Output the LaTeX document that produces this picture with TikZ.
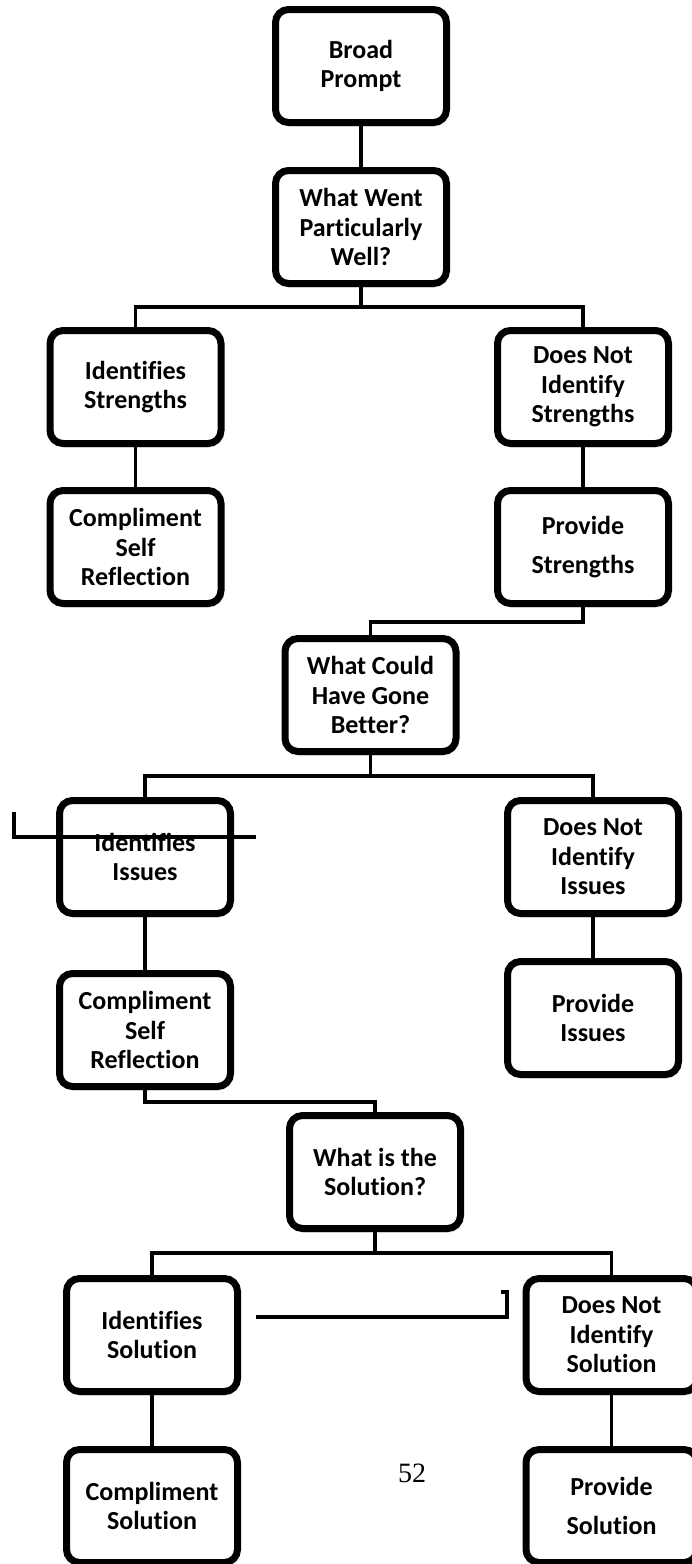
\documentclass[tikz,border=0pt]{standalone}
\usepackage{fontspec}
\setmainfont{Carlito}[Ligatures=NoCommon]
\newfontfamily\pagefont{Liberation Serif}
\usepackage{tikz}
\usetikzlibrary{shadows}

\begin{document}
\begin{tikzpicture}[x=1pt,y=-1pt,
    box/.style={draw, line width=7pt, rounded corners=13pt, fill=white,
        minimum width=171pt, minimum height=113pt, inner sep=2pt, align=center,
        font=\bfseries\fontsize{26}{29.5}\selectfont,
        drop shadow={shadow xshift=1.5pt, shadow yshift=-4pt, opacity=0.22}},
    conn/.style={line width=3.6pt},
    stray/.style={line width=3.4pt}]
    \useasboundingbox (0,0) rectangle (692,1564);

    % First question
    \node[box] (bp) at (361,66) {Broad\\Prompt};
    \node[box] (wwpw) at (361,227) {What Went\\Particularly\\Well?};
    \node[box] (is) at (135.5,387) {Identifies\\Strengths};
    \node[box] (dnis) at (583,387) {Does Not\\Identify\\Strengths};
    \node[box] (csr1) at (135.5,547) {Compliment\\Self\\Reflection};
    \node[box] (ps) at (583,547) {Provide\\[10pt]Strengths};

    % Second question
    \node[box] (wchgb) at (370.5,695) {What Could\\Have Gone\\Better?};
    \node[box] (ii) at (145,857) {Identifies\\Issues};
    \node[box] (dnii) at (593,857) {Does Not\\Identify\\Issues};
    \node[box] (csr2) at (145,1030) {Compliment\\Self\\Reflection};
    \node[box] (pi) at (593,1018) {Provide\\Issues};

    % Third question
    \node[box] (wits) at (375,1172) {What is the\\Solution?};
    \node[box] (isol) at (152,1335) {Identifies\\Solution};
    \node[box] (dnisol) at (611.5,1335) {Does Not\\Identify\\Solution};
    \node[box] (cs) at (152,1506) {Compliment\\Solution};
    \node[box] (psol) at (611.5,1506) {Provide\\[9pt]Solution};

    \node[font=\pagefont\fontsize{28}{30}\selectfont] (pg) at (412,1473) {52};

    % Connectors
    \coordinate (j1) at (361,307);
    \coordinate (j2) at (370.5,776);
    \coordinate (j3) at (375,1253);
    \coordinate (k1) at (370.5,622);
    \coordinate (k2) at (375,1102);

    \draw[conn] (bp.south) -- (wwpw.north);
    \draw[conn] (wwpw.south) -- (j1);
    \draw[conn] (is.north) |- (j1) -| (dnis.north);
    \draw[conn] (is.south) -- (csr1.north);
    \draw[conn] (dnis.south) -- (ps.north);
    \draw[conn] (ps.south) |- (k1) -- (wchgb.north);

    \draw[conn] (wchgb.south) -- (j2);
    \draw[conn] (ii.north) |- (j2) -| (dnii.north);
    \draw[conn] (ii.south) -- (csr2.north);
    \draw[conn] (dnii.south) -- (pi.north);
    \draw[conn] (csr2.south) |- (k2) -- (wits.north);

    \draw[conn] (wits.south) -- (j3);
    \draw[conn] (isol.north) |- (j3) -| (dnisol.north);
    \draw[conn] (isol.south) -- (cs.north);
    \draw[conn] (dnisol.south) -- (psol.north);

    % Stray rules
    \draw[stray] (14,812) |- (256,837);
    \draw[stray] (256,1317) -- (507,1317) -- (507,1292) -- (501,1292);
\end{tikzpicture}
\end{document}
